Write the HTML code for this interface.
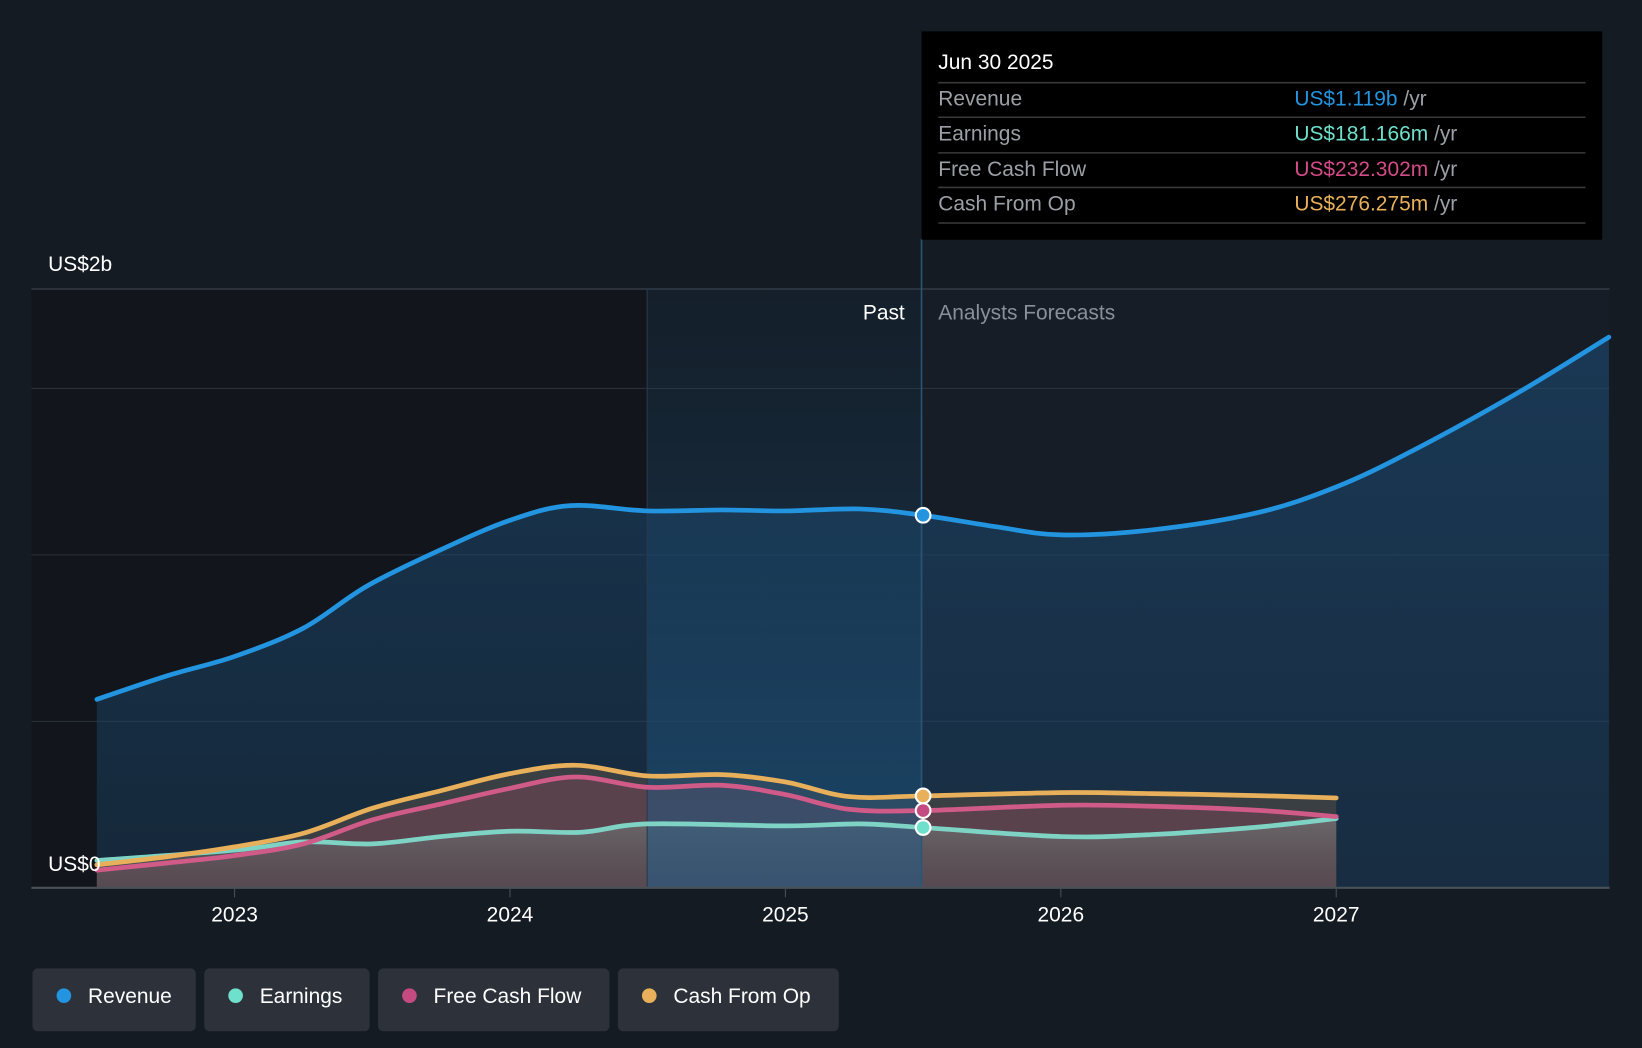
<!DOCTYPE html>
<html><head><meta charset="utf-8"><style>
html,body{margin:0;padding:0;background:#151b23;}
svg{display:block;font-family:"Liberation Sans",sans-serif;}
</style></head><body>
<svg id="chart" width="1642" height="1048" viewBox="0 0 1568 1001" preserveAspectRatio="none" xmlns="http://www.w3.org/2000/svg">
<defs>
<linearGradient id="pastHL" x1="0" y1="0" x2="0" y2="1"><stop offset="0" stop-color="#1b3a55" stop-opacity="0.25"/><stop offset="1" stop-color="#1f5c8a" stop-opacity="0.55"/></linearGradient>
<linearGradient id="revFill" x1="0" y1="0" x2="0" y2="1"><stop offset="0" stop-color="#1c4a72" stop-opacity="0.6"/><stop offset="1" stop-color="#1c4a72" stop-opacity="0.35"/></linearGradient>
<linearGradient id="subFill" x1="0" y1="0" x2="0" y2="1"><stop offset="0" stop-color="#6f7072" stop-opacity="0.8"/><stop offset="1" stop-color="#55575a" stop-opacity="0.35"/></linearGradient>
</defs>
<rect x="0" y="0" width="1568" height="1001" fill="#151b23"/>
<rect x="30" y="276" width="850" height="572" fill="#12161c"/>
<rect x="880" y="276" width="657" height="572" fill="#161d27"/>
<g id="grid"></g>
<g id="areas"></g>
<rect x="618" y="276" width="262" height="572" fill="url(#pastHL)"/>
<line x1="618" y1="276" x2="618" y2="848" stroke="#2a3a4a" stroke-width="1"/>
<line x1="880" y1="228" x2="880" y2="848" stroke="#2a5676" stroke-width="1.5"/>
<g id="lines"></g>
<g id="axis"></g>
<text x="46" y="259" fill="#fff" font-size="20">US$2b</text>
<text x="46" y="832" fill="#fff" font-size="20">US$0</text>
<text x="864" y="305" fill="#fff" font-size="20" text-anchor="end">Past</text>
<text x="896" y="305" fill="#8a9098" font-size="20">Analysts Forecasts</text>
<g>
<rect x="880" y="30" width="650" height="199" fill="#000"/>
<text x="896" y="66" fill="#fff" font-size="20">Jun 30 2025</text>
<g stroke="#3a3a3a" stroke-width="1.5"><line x1="896" y1="79" x2="1514" y2="79"/><line x1="896" y1="112" x2="1514" y2="112"/><line x1="896" y1="146" x2="1514" y2="146"/><line x1="896" y1="179" x2="1514" y2="179"/><line x1="896" y1="213" x2="1514" y2="213"/></g>
<g font-size="20" fill="#9aa0a6">
<text x="896" y="101">Revenue</text><text x="896" y="134">Earnings</text><text x="896" y="168">Free Cash Flow</text><text x="896" y="201">Cash From Op</text>
</g>
<text x="1236" y="101" font-size="20" fill="#2394df">US$1.119b <tspan fill="#9aa0a6">/yr</tspan></text>
<text x="1236" y="134" font-size="20" fill="#6ee0cc">US$181.166m <tspan fill="#9aa0a6">/yr</tspan></text>
<text x="1236" y="168" font-size="20" fill="#d44b88">US$232.302m <tspan fill="#9aa0a6">/yr</tspan></text>
<text x="1236" y="201" font-size="20" fill="#e8b05a">US$276.275m <tspan fill="#9aa0a6">/yr</tspan></text>
</g>
<g id="legend"></g>
</svg>
<script>
const revYears=[2022.5,2022.76,2023,2023.25,2023.48,2023.75,2024,2024.22,2024.5,2024.77,2025,2025.27,2025.5,2025.76,2026,2026.33,2026.71,2027,2027.28,2027.66,2027.99];
const revValues=[0.566,0.638,0.695,0.780,0.906,1.016,1.104,1.148,1.132,1.135,1.132,1.138,1.119,1.085,1.060,1.075,1.126,1.204,1.314,1.487,1.654];
const earnYears=[2022.5,2023,2023.25,2023.5,2023.75,2024,2024.26,2024.5,2025,2025.27,2025.5,2026,2026.33,2026.71,2027];
const earnValues=[0.082,0.113,0.138,0.132,0.154,0.170,0.167,0.192,0.186,0.192,0.181,0.154,0.160,0.182,0.208];
const fcfYears=[2022.5,2022.76,2023,2023.25,2023.5,2023.75,2024,2024.24,2024.5,2024.77,2025,2025.23,2025.5,2026,2026.33,2026.71,2027];
const fcfValues=[0.053,0.075,0.097,0.132,0.204,0.252,0.299,0.333,0.302,0.308,0.280,0.236,0.232,0.248,0.245,0.233,0.214];
const cfoYears=fcfYears;
const cfoValues=[0.069,0.094,0.123,0.164,0.239,0.292,0.343,0.368,0.336,0.340,0.318,0.274,0.276,0.286,0.283,0.277,0.270];
const tickYears=[2023,2024,2025,2026,2027];
const gridValues=[0,0.5,1,1.5];
const legendNames=["Revenue","Earnings","Free Cash Flow","Cash From Op"];
const legendColors=["#2394df","#6ee0cc","#c44a82","#e8b05a"];
const markerYear=2025.5;

const NS="http://www.w3.org/2000/svg";
const xS=y=>224+(y-2023)*263;
const yS=v=>848-v*318;
function mk(tag,attrs,parent){const e=document.createElementNS(NS,tag);for(const k in attrs)e.setAttribute(k,attrs[k]);parent.appendChild(e);return e;}
function smooth(xs,vs){const p=xs.map((x,i)=>[xS(x),yS(vs[i])]);let d="M"+p[0][0]+","+p[0][1];
for(let i=0;i<p.length-1;i++){const p0=p[i-1]||p[i],p1=p[i],p2=p[i+1],p3=p[i+2]||p2;
d+=" C"+(p1[0]+(p2[0]-p0[0])/6)+","+(p1[1]+(p2[1]-p0[1])/6)+" "+(p2[0]-(p3[0]-p1[0])/6)+","+(p2[1]-(p3[1]-p1[1])/6)+" "+p2[0]+","+p2[1];}return d;}
function area(xs,vs){return smooth(xs,vs)+" L"+xS(xs[xs.length-1])+",848 L"+xS(xs[0])+",848 Z";}
function interp(xs,vs,t){for(let i=0;i<xs.length-1;i++){if(t>=xs[i]&&t<=xs[i+1]){return vs[i]+(vs[i+1]-vs[i])*(t-xs[i])/(xs[i+1]-xs[i]);}}return vs[vs.length-1];}

const grid=document.getElementById('grid');
gridValues.forEach(v=>{if(v===0)return;const l=mk('line',{x1:30,x2:1537,y1:yS(v),y2:yS(v),stroke:'#2a313b','stroke-width':1},grid);

});
const topL=mk('line',{x1:30,x2:1537,y1:276,y2:276,stroke:'#3a414b','stroke-width':1.2},grid);



const areas=document.getElementById('areas');
const ra=mk('path',{d:area(revYears,revValues),fill:'url(#revFill)'},areas);


const ca=mk('path',{d:area(cfoYears,cfoValues),fill:'#3e4145','fill-opacity':0.9},areas);


const fa=mk('path',{d:area(fcfYears,fcfValues),fill:'#6e4452','fill-opacity':0.6},areas);


const ea=mk('path',{d:area(earnYears,earnValues),fill:'url(#subFill)'},areas);



const lines=document.getElementById('lines');
const series=[[revYears,revValues,"#2394df","revenue-line"],[earnYears,earnValues,"#7fd3c4","earnings-line"],[fcfYears,fcfValues,"#d05a88","free-cash-flow-line"],[cfoYears,cfoValues,"#e8b05a","cash-from-op-line"]];
series.forEach(s=>{const p=mk('path',{d:smooth(s[0],s[1]),fill:'none',stroke:s[2],'stroke-width':4.5,'stroke-linecap':'round'},lines);

});
const dotCols=["#2394df","#6ee0cc","#c44a82","#e8b05a"];
series.forEach((s,i)=>{const c=mk('circle',{cx:xS(markerYear),cy:yS(interp(s[0],s[1],markerYear)),r:7,fill:dotCols[i],stroke:'#fff','stroke-width':2},lines);

});

const axis=document.getElementById('axis');
const base=mk('line',{x1:30,x2:1537,y1:848,y2:848,stroke:'#4a5058','stroke-width':2},axis);


tickYears.forEach(y=>{mk('line',{x1:xS(y),x2:xS(y),y1:849,y2:857,stroke:'#4a5058','stroke-width':1},axis);
const t=mk('text',{x:xS(y),y:880,fill:'#fff','font-size':20,'text-anchor':'middle'},axis);t.textContent=y;

});

const legend=document.getElementById('legend');
let lx=31;
legendNames.forEach((n,i)=>{const w=[156,158,221,211][i];
const g=mk('g',{},legend);


mk('rect',{x:lx,y:925,width:w,height:60,rx:5,fill:'#2c313a'},g);
mk('circle',{cx:lx+30,cy:951,r:7,fill:legendColors[i]},g);
const t=mk('text',{x:lx+53,y:958,fill:'#fff','font-size':20},g);t.textContent=n;
lx+=w+8;});
</script>
</body></html>
